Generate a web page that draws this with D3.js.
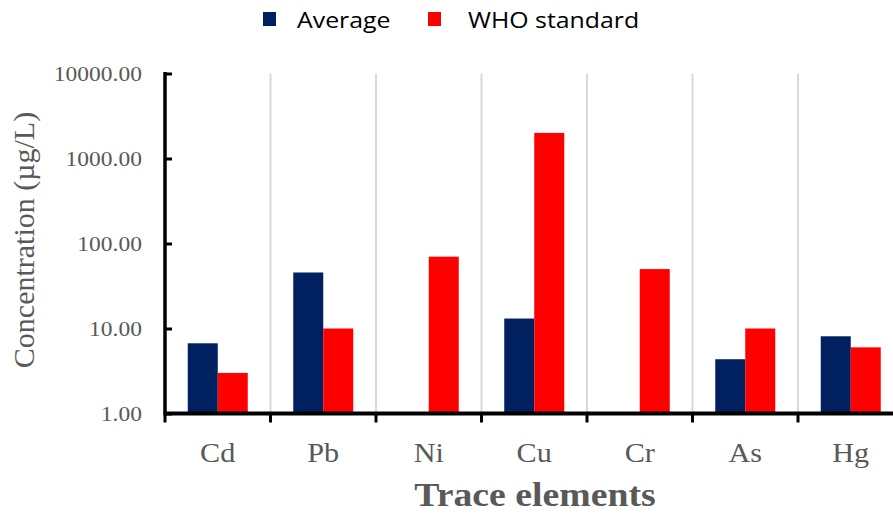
<!DOCTYPE html>
<html lang="en">
<head>
    <meta charset="UTF-8">
    <title>Trace elements</title>
    <style>
        body, html {
            margin: 0;
            background-color: #ffffff;
            overflow: hidden;
        }
        svg { display: block; }
    </style>
</head>
<body>
    <script src="https://d3js.org/d3.v7.min.js"></script>
    <script>
        // chart data
        var elements = ["Cd", "Pb", "Ni", "Cu", "Cr", "As", "Hg"];
        var seriesNames = ["Average", "WHO standard"];
        var averageValues = [6.7, 45.6, null, 13.1, null, 4.35, 8.1];
        var whoValues = [3, 10, 70, 2000, 50, 10, 6];
        var yTicks = [1, 10, 100, 1000, 10000];
        var colors = ["#002060", "#ff0000"];

        var width = 893,
            height = 514;

        var serif = "'Liberation Serif', 'Times New Roman', serif";
        var stretch = 1.12; // the original text is a bit wide

        var svg = d3.select("body").append("svg")
            .attr("width", width)
            .attr("height", height);

        // plot area (right end runs off the picture, like the original)
        var plotLeft = 165, plotRight = 903.5, plotTop = 73.5, plotBottom = 413.5;

        var x = d3.scaleBand()
            .domain(elements)
            .range([plotLeft, plotRight])
            .paddingInner(0)
            .paddingOuter(0);

        var barW = 30;
        var x1 = d3.scaleBand()
            .domain(seriesNames)
            .range([0, barW * 2]);

        var y = d3.scaleLog()
            .domain([1, 10000])
            .range([plotBottom, plotTop]);

        // text helper: anchor at (tx, ty), widened a bit
        function addText(parent, tx, ty, str, size, anchor, sx) {
            var g = parent.append("g")
                .attr("transform", "translate(" + tx + "," + ty + ") scale(" + (sx || stretch) + ",1)");
            return g.append("text")
                .attr("text-anchor", anchor)
                .attr("font-size", size)
                .text(str);
        }

        // vertical grid lines between categories
        svg.append("g")
            .selectAll("line")
            .data(elements.slice(1))
            .enter()
            .append("line")
            .attr("x1", function(d) { return x(d); })
            .attr("x2", function(d) { return x(d); })
            .attr("y1", plotTop)
            .attr("y2", plotBottom)
            .attr("stroke", "#d9d9d9")
            .attr("stroke-width", 2);

        // bars
        var rows = elements.map(function(e, i) {
            return { el: e, vals: [averageValues[i], whoValues[i]] };
        });

        var groups = svg.append("g")
            .selectAll("g")
            .data(rows)
            .enter()
            .append("g")
            .attr("transform", function(d) {
                return "translate(" + (x(d.el) + x.bandwidth() / 2 - barW) + ",0)";
            });

        groups.selectAll("rect")
            .data(function(d) {
                return d.vals.map(function(v, j) { return { name: seriesNames[j], v: v, j: j }; })
                    .filter(function(o) { return o.v != null; });
            })
            .enter()
            .append("rect")
            .attr("x", function(d) { return x1(d.name); })
            .attr("width", x1.bandwidth())
            .attr("y", function(d) { return y(d.v); })
            .attr("height", function(d) { return plotBottom - y(d.v); })
            .attr("fill", function(d) { return colors[d.j]; });

        // y axis
        var yAxis = d3.axisRight(y)
            .tickValues(yTicks)
            .tickSize(7)
            .tickFormat("");

        var gy = svg.append("g")
            .attr("transform", "translate(" + plotLeft + ",0)")
            .call(yAxis);
        gy.select(".domain").remove();
        gy.selectAll("line").attr("stroke", "#000").attr("stroke-width", 3);
        gy.append("line")
            .attr("x1", 0).attr("x2", 0)
            .attr("y1", plotTop - 1.5).attr("y2", plotBottom)
            .attr("stroke", "#000").attr("stroke-width", 3.5);

        // y tick labels
        var yLab = svg.append("g")
            .attr("font-family", serif)
            .attr("fill", "#595959");
        yTicks.forEach(function(t) {
            addText(yLab, 142, y(t), d3.format(".2f")(t), 21, "end")
                .attr("dy", "0.35em");
        });

        // x axis
        svg.append("line")
            .attr("x1", plotLeft - 1.5).attr("x2", width)
            .attr("y1", plotBottom).attr("y2", plotBottom)
            .attr("stroke", "#000").attr("stroke-width", 4);

        svg.append("g")
            .selectAll("line")
            .data(elements)
            .enter()
            .append("line")
            .attr("x1", function(d) { return x(d); })
            .attr("x2", function(d) { return x(d); })
            .attr("y1", plotBottom)
            .attr("y2", plotBottom + 9)
            .attr("stroke", "#000")
            .attr("stroke-width", 3);

        var xLab = svg.append("g")
            .attr("font-family", serif)
            .attr("fill", "#595959");
        elements.forEach(function(e) {
            addText(xLab, x(e) + x.bandwidth() / 2, 462, e, 27, "middle");
        });

        // axis titles
        var titles = svg.append("g")
            .attr("font-family", serif)
            .attr("fill", "#595959");
        addText(titles, 535, 506, "Trace elements", 34, "middle", 1.11)
            .attr("font-weight", "bold");

        titles.append("text")
            .attr("transform", "translate(34,240) rotate(-90)")
            .attr("text-anchor", "middle")
            .attr("font-size", 30)
            .text("Concentration (\u00b5g/L)");

        // legend
        var legendX = [263, 428];
        var legend = svg.append("g")
            .attr("font-family", "'Open Sans', 'Noto Sans', sans-serif")
            .attr("fill", "#000");

        seriesNames.forEach(function(name, i) {
            legend.append("rect")
                .attr("x", legendX[i]).attr("y", 12)
                .attr("width", 13).attr("height", 14)
                .attr("fill", colors[i]);
            addText(legend, legendX[i] + (i === 0 ? 34 : 40), 28, name, 22, "start", 1.13);
        });
    </script>
</body>
</html>
